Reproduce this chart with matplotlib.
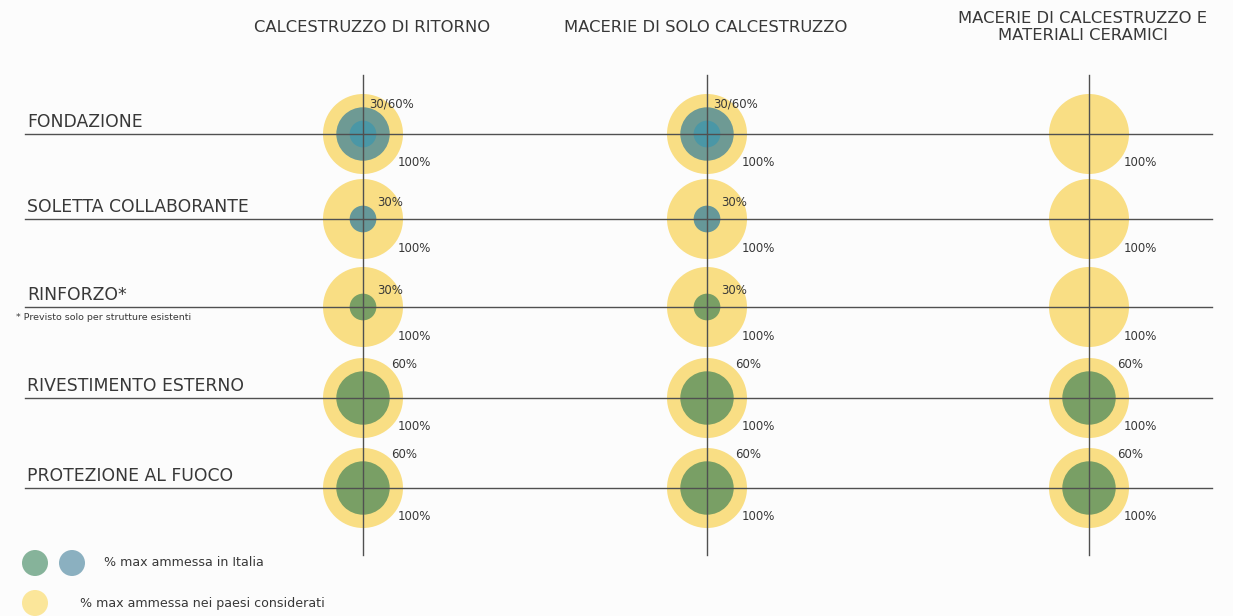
import matplotlib
matplotlib.use("Agg")
import matplotlib.pyplot as plt
from matplotlib.patches import Circle

# --- data -------------------------------------------------------------
COLUMNS = ["CALCESTRUZZO DI RITORNO", "MACERIE DI SOLO CALCESTRUZZO",
           "MACERIE DI CALCESTRUZZO E\nMATERIALI CERAMICI"]
ROWS = ["FONDAZIONE", "SOLETTA COLLABORANTE", "RINFORZO*",
        "RIVESTIMENTO ESTERNO", "PROTEZIONE AL FUOCO"]
# % max ammessa nei paesi considerati
PAESI_MAX = [[100, 100, 100],
             [100, 100, 100],
             [100, 100, 100],
             [100, 100, 100],
             [100, 100, 100]]
# % max ammessa in Italia (list: several thresholds per cell)
ITALIA_MAX = [[[60, 30], [60, 30], []],
              [[30], [30], []],
              [[30], [30], []],
              [[60], [60], [60]],
              [[60], [60], [60]]]
ITALIA_TIPO = ["blu", "blu", "verde", "verde", "verde"]
FOOTNOTE = "* Previsto solo per strutture esistenti"
LEGEND = ["% max ammessa in Italia", "% max ammessa nei paesi considerati"]

# --- layout -----------------------------------------------------------
W, H = 1233, 616
COL_X = [363, 707, 1089]
TITLE_X = [372, 706, 1083]
ROW_Y = [134, 219, 307, 398, 488]
R_FULL = 40.0          # radius for 100 %
K_IT = 0.445           # px per % for italian circles
YELLOW = "#F9DE84"
GREEN = "#799F65"
BLUE_SHADES = {60: "#6E9A94", 30: "#4A97A6"}
BLUE_SINGLE = "#669899"
LINE = "#505050"
TXT = "#383838"
FONT = "DejaVu Sans"

fig = plt.figure(figsize=(W / 100, H / 100), dpi=100, facecolor="#fcfcfc")
ax = fig.add_axes([0, 0, 1, 1])
ax.set_xlim(0, W); ax.set_ylim(H, 0)
ax.set_aspect("equal"); ax.axis("off")

# grid lines
for y in ROW_Y:
    ax.plot([25, 1212], [y, y], color=LINE, lw=1.0, zorder=3)
for x in COL_X:
    ax.plot([x, x], [75, 555], color=LINE, lw=1.0, zorder=3)

# column titles
for x, t in zip(TITLE_X, COLUMNS):
    ax.text(x, 27, t, ha="center", va="center", fontsize=11.8, color=TXT,
            family=FONT, linespacing=1.1)

# row labels
for y, r in zip(ROW_Y, ROWS):
    ax.text(27, y - 3, r, ha="left", va="bottom", fontsize=12.4, color=TXT, family=FONT)
ax.text(16, ROW_Y[2] + 11, FOOTNOTE, ha="left", va="center", fontsize=6.8, color=TXT,
        family=FONT)

# circles
for i, y in enumerate(ROW_Y):
    for j, x in enumerate(COL_X):
        rp = R_FULL * PAESI_MAX[i][j] / 100
        ax.add_patch(Circle((x, y), rp, color=YELLOW, lw=0, zorder=1))
        ax.text(x + 35, y + 29, f"{PAESI_MAX[i][j]}%", ha="left", va="center",
                fontsize=8.5, color=TXT, family=FONT, zorder=4)
        vals = ITALIA_MAX[i][j]
        for v in vals:
            if ITALIA_TIPO[i] == "verde":
                c = GREEN
            elif len(vals) > 1:
                c = BLUE_SHADES[v]
            else:
                c = BLUE_SINGLE
            ax.add_patch(Circle((x, y), K_IT * v, color=c, lw=0, zorder=2))
        if vals:
            if len(vals) > 1:
                lab = "/".join(f"{v}" for v in sorted(vals)) + "%"
                ax.text(x + 6, y - 30, lab, ha="left", va="center", fontsize=8.5,
                        color=TXT, family=FONT, zorder=4)
            else:
                r = K_IT * vals[0]
                ax.text(x + r + 1, y - 1.27 * r, f"{vals[0]}%", ha="left", va="center",
                        fontsize=8.5, color=TXT, family=FONT, zorder=4)

# legend
ax.add_patch(Circle((35, 563), 13, color="#86B39A", lw=0))
ax.add_patch(Circle((72, 563), 13, color="#8BB0C0", lw=0))
ax.text(104, 563, LEGEND[0], ha="left", va="center", fontsize=9.1, color=TXT, family=FONT)
ax.add_patch(Circle((35, 603), 13, color="#FBE69A", lw=0))
ax.text(80, 604, LEGEND[1], ha="left", va="center", fontsize=9.1, color=TXT, family=FONT)

fig.savefig("out.png", dpi=100, facecolor=fig.get_facecolor())
